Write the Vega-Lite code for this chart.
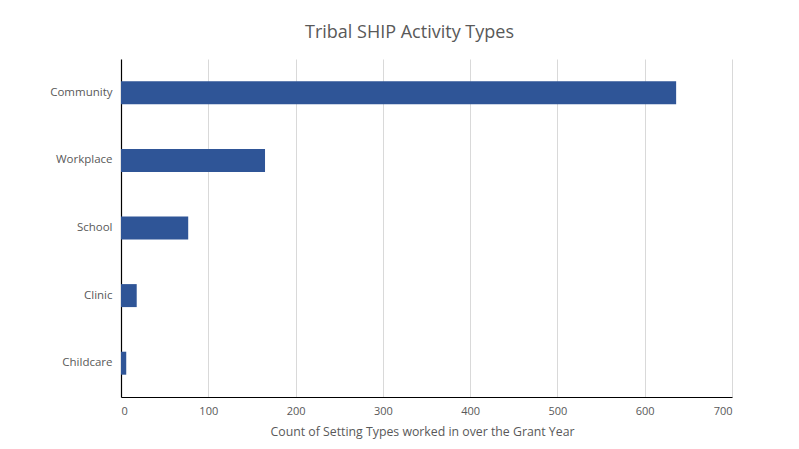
{
  "$schema": "https://vega.github.io/schema/vega-lite/v6.json",
  "autosize": {"type": "none"},
  "padding": {"left": 121, "top": 59, "right": 67, "bottom": 52},
  "width": 611,
  "height": 338,
  "background": "white",
  "title": {
    "text": "Tribal SHIP Activity Types",
    "font": "Open Sans",
    "fontSize": 18,
    "fontWeight": "normal",
    "color": "#595959",
    "anchor": "middle",
    "dx": -17,
    "offset": 17
  },
  "data": {
    "values": [
      {"setting": "Community", "count": 636},
      {"setting": "Workplace", "count": 165},
      {"setting": "School", "count": 77},
      {"setting": "Clinic", "count": 18},
      {"setting": "Childcare", "count": 6}
    ]
  },
  "mark": {"type": "bar", "color": "#2F5597"},
  "encoding": {
    "y": {
      "field": "setting",
      "type": "nominal",
      "sort": ["Community", "Workplace", "School", "Clinic", "Childcare"],
      "scale": {"paddingInner": 0.66, "paddingOuter": 0.33},
      "axis": {
        "title": null,
        "ticks": false,
        "domainColor": "#000000",
        "domainWidth": 1.2,
        "labelFont": "Open Sans",
        "labelFontSize": 11.5,
        "labelColor": "#595959",
        "labelPadding": 9,
        "grid": false
      }
    },
    "x": {
      "field": "count",
      "type": "quantitative",
      "scale": {"domain": [0, 700], "nice": false},
      "axis": {
        "values": [0, 100, 200, 300, 400, 500, 600, 700],
        "title": "Count of Setting Types worked in over the Grant Year",
        "titleFont": "Open Sans",
        "titleFontSize": 12.3,
        "titleFontWeight": "normal",
        "titleColor": "#595959",
        "titlePadding": 9,
        "titleX": 301,
        "ticks": false,
        "domainColor": "#000000",
        "domainWidth": 1.2,
        "labelFont": "Open Sans",
        "labelFontSize": 11,
        "labelColor": "#595959",
        "labelPadding": 8,
        "gridColor": "#d9d9d9",
        "gridWidth": 1
      }
    }
  },
  "config": {"view": {"stroke": null}}
}
